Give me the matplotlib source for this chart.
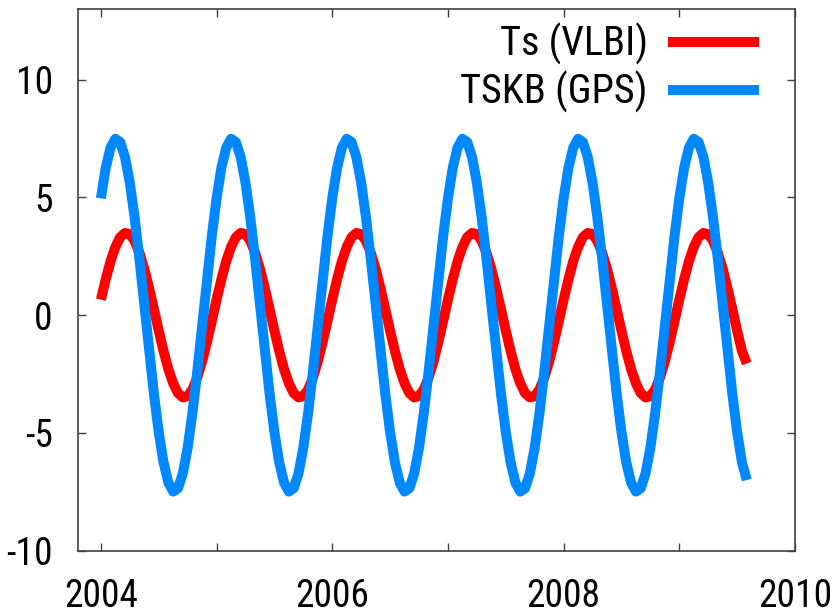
import matplotlib
matplotlib.use("Agg")
import matplotlib.pyplot as plt
import numpy as np
from matplotlib.ticker import FixedLocator, FixedFormatter

plt.rcParams['font.family'] = ['Roboto Condensed', 'DejaVu Sans']
plt.rcParams['axes.unicode_minus'] = False

# half-monthly samples starting 2004.0
ts_vlbi = [
    0.66, 1.52, 2.29, 2.89, 3.31, 3.49, 3.44, 3.15, 2.65, 1.97, 1.15, 0.26,
    -0.66, -1.52, -2.29, -2.89, -3.31, -3.49, -3.44, -3.15, -2.65, -1.97, -1.15, -0.26,
    0.66, 1.52, 2.29, 2.89, 3.31, 3.49, 3.44, 3.15, 2.65, 1.97, 1.15, 0.26,
    -0.66, -1.52, -2.29, -2.89, -3.31, -3.49, -3.44, -3.15, -2.65, -1.97, -1.15, -0.26,
    0.66, 1.52, 2.29, 2.89, 3.31, 3.49, 3.44, 3.15, 2.65, 1.97, 1.15, 0.26,
    -0.66, -1.52, -2.29, -2.89, -3.31, -3.49, -3.44, -3.15, -2.65, -1.97, -1.15, -0.26,
    0.66, 1.52, 2.29, 2.89, 3.31, 3.49, 3.44, 3.15, 2.65, 1.97, 1.15, 0.26,
    -0.66, -1.52, -2.29, -2.89, -3.31, -3.49, -3.44, -3.15, -2.65, -1.97, -1.15, -0.26,
    0.66, 1.52, 2.29, 2.89, 3.31, 3.49, 3.44, 3.15, 2.65, 1.97, 1.15, 0.26,
    -0.66, -1.52, -2.29, -2.89, -3.31, -3.49, -3.44, -3.15, -2.65, -1.97, -1.15, -0.26,
    0.66, 1.52, 2.29, 2.89, 3.31, 3.49, 3.44, 3.15, 2.65, 1.97, 1.15, 0.26,
    -0.66, -1.52, -2.05,
]
tskb_gps = [
    4.96, 6.25, 7.11, 7.49, 7.35, 6.72, 5.63, 4.15, 2.39, 0.47, -1.48, -3.33,
    -4.96, -6.25, -7.11, -7.49, -7.35, -6.72, -5.63, -4.15, -2.39, -0.47, 1.48, 3.33,
    4.96, 6.25, 7.11, 7.49, 7.35, 6.72, 5.63, 4.15, 2.39, 0.47, -1.48, -3.33,
    -4.96, -6.25, -7.11, -7.49, -7.35, -6.72, -5.63, -4.15, -2.39, -0.47, 1.48, 3.33,
    4.96, 6.25, 7.11, 7.49, 7.35, 6.72, 5.63, 4.15, 2.39, 0.47, -1.48, -3.33,
    -4.96, -6.25, -7.11, -7.49, -7.35, -6.72, -5.63, -4.15, -2.39, -0.47, 1.48, 3.33,
    4.96, 6.25, 7.11, 7.49, 7.35, 6.72, 5.63, 4.15, 2.39, 0.47, -1.48, -3.33,
    -4.96, -6.25, -7.11, -7.49, -7.35, -6.72, -5.63, -4.15, -2.39, -0.47, 1.48, 3.33,
    4.96, 6.25, 7.11, 7.49, 7.35, 6.72, 5.63, 4.15, 2.39, 0.47, -1.48, -3.33,
    -4.96, -6.25, -7.11, -7.49, -7.35, -6.72, -5.63, -4.15, -2.39, -0.47, 1.48, 3.33,
    4.96, 6.25, 7.11, 7.49, 7.35, 6.72, 5.63, 4.15, 2.39, 0.47, -1.48, -3.33,
    -4.96, -6.25, -7.0,
]
years = 2004.0 + np.arange(len(ts_vlbi)) / 24.0

xticks = [2004, 2005, 2006, 2007, 2008, 2009, 2010]
xticklabels = ["2004", "", "2006", "", "2008", "", "2010"]
yticks = [-10, -5, 0, 5, 10]

fig = plt.figure(figsize=(8.34, 6.16), dpi=100)
ax = fig.add_axes([0.0932, 0.106, 0.86, 0.8794])

ax.plot(years, ts_vlbi, color='#ff0000', lw=7.2, label="Ts (VLBI)", solid_capstyle='butt')
ax.plot(years, tskb_gps, color='#0088ff', lw=7.2, label="TSKB (GPS)", solid_capstyle='butt')

ax.set_xlim(2003.8, 2010)
ax.set_ylim(-10, 13)
ax.xaxis.set_major_locator(FixedLocator(xticks))
ax.xaxis.set_major_formatter(FixedFormatter(xticklabels))
ax.set_yticks(yticks)
ax.set_yticklabels([str(v) for v in yticks])

ax.tick_params(direction='in', length=6, width=1, color='#404040',
               top=True, right=True, labelsize=27)
ax.tick_params(axis='y', pad=18)
ax.tick_params(axis='x', pad=20)
for s in ax.spines.values():
    s.set_color('#404040')
    s.set_linewidth(1.2)

leg = ax.legend(loc='upper right', bbox_to_anchor=(0.95, 0.974), frameon=False,
                markerfirst=False, fontsize=29, handlelength=2.26, handletextpad=0.5,
                labelspacing=0.15, borderpad=0, borderaxespad=0)

fig.savefig("out.png", dpi=100)
